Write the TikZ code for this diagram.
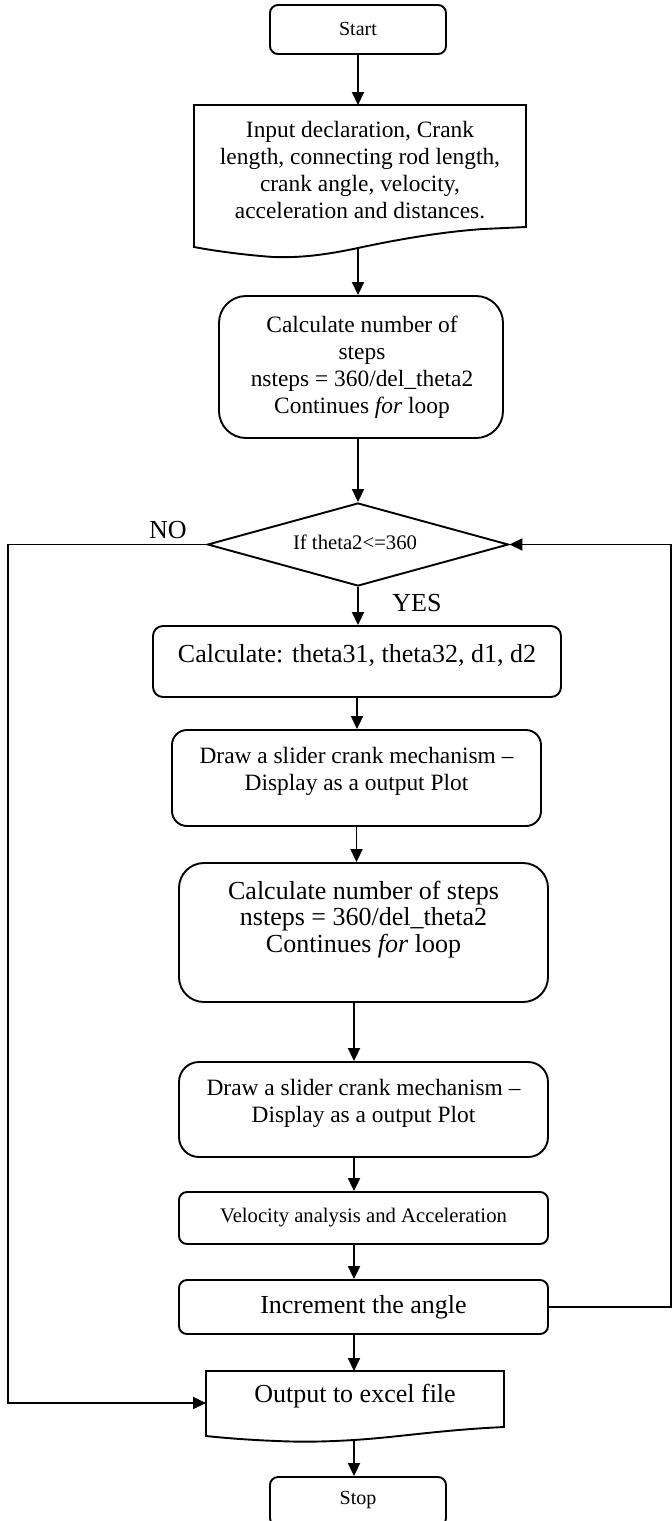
\documentclass[tikz,border=0pt]{standalone}
\usepackage{fontspec}
\setmainfont{Liberation Serif}
\usetikzlibrary{arrows.meta,calc,shapes.geometric}
\begin{document}
\begin{tikzpicture}[x=1pt,y=-1pt,line width=1.9pt,
  boxr/.style={draw,rectangle,inner sep=0pt},
  txt/.style={align=center,inner sep=0pt},
  arr/.style={-{Triangle[length=13pt,width=12pt]}},
  fs20/.style={font=\fontsize{20}{24}\selectfont},
  fs21/.style={font=\fontsize{20.7}{24}\selectfont},
  fs23/.style={font=\fontsize{23.4}{27}\selectfont},
  fs26/.style={font=\fontsize{26}{26.5}\selectfont}]
\useasboundingbox (0,0) rectangle (672,1521);

% Start
\node[boxr,rounded corners=8pt,minimum width=176pt,minimum height=49pt] (start) at (358,29.5) {};
\node[txt,fs20] (startt) at (358,29) {Start};

% Input (document shape)
\draw (194,105) -- (526,105) -- (526,227) -- (483,229)
  .. controls (440,232) and (395,240) .. (358,248)
  .. controls (325,255) and (300,258) .. (273,257)
  .. controls (245,255) and (215,251) .. (194,247) -- cycle;
\coordinate (inpn) at (358,105);
\coordinate (inpb) at (358,248);
\node[txt,fs23] (inpt) at (360,170) {Input declaration, Crank\\length, connecting rod length,\\crank angle, velocity,\\acceleration and distances.};

% Calculate 1
\node[boxr,rounded corners=27pt,minimum width=284pt,minimum height=142pt] (calc1) at (361,367) {};
\node[txt,fs23] (calc1t) at (362,367) {Calculate number of\\steps\\nsteps = 360/del\_theta2\\Continues \textit{for} loop};

% Decision
\node[draw,diamond,inner sep=0pt,minimum width=301pt,minimum height=83pt] (dia) at (358,544.5) {};
\node[txt,fs21] (diat) at (355,542) {If theta2<=360};
\node[txt,fs26] (no) at (168,530) {NO};
\node[txt,fs26] (yes) at (417,603) {YES};

% Calculate 2
\node[boxr,rounded corners=10pt,minimum width=408pt,minimum height=71pt] (calc2) at (357,661.5) {};
\node[txt,fs26] (calc2t) at (357,655) {Calculate: theta31, theta32, d1, d2};

% Draw 1
\node[boxr,rounded corners=15pt,minimum width=369pt,minimum height=96pt] (draw1) at (356.5,778) {};
\node[txt,fs23] (draw1t) at (356.5,771.5) {Draw a slider crank mechanism --\\Display as a output Plot};

% Calculate 3
\node[boxr,rounded corners=25pt,minimum width=369pt,minimum height=139pt] (calc3) at (363.5,932.5) {};
\node[txt,fs26] (calc3t) at (363.5,919.5) {Calculate number of steps\\nsteps = 360/del\_theta2\\Continues \textit{for} loop};

% Draw 2
\node[boxr,rounded corners=20pt,minimum width=369pt,minimum height=95pt] (draw2) at (363.5,1109.5) {};
\node[txt,fs23] (draw2t) at (363.5,1103.5) {Draw a slider crank mechanism --\\Display as a output Plot};

% Velocity
\node[boxr,rounded corners=8pt,minimum width=369pt,minimum height=52pt] (vel) at (363.5,1218) {};
\node[txt,fs21] (velt) at (363.5,1218) {Velocity analysis and Acceleration};

% Increment
\node[boxr,rounded corners=8pt,minimum width=369pt,minimum height=54pt] (inc) at (363.5,1307) {};
\node[txt,fs26] (inct) at (363.5,1307) {Increment the angle};

% Output (document shape)
\draw (206,1371) -- (504,1371) -- (504,1427)
  .. controls (440,1430) and (400,1437) .. (354,1440)
  .. controls (320,1442) and (300,1442) .. (277,1441)
  .. controls (250,1440) and (225,1438) .. (206,1436) -- cycle;
\coordinate (outn) at (354,1371);
\coordinate (outb) at (354,1440);
\coordinate (outw) at (206,1403);
\node[txt,fs26] (outt) at (355,1396) {Output to excel file};

% Stop
\node[boxr,rounded corners=8pt,minimum width=176pt,minimum height=49pt] (stop) at (358,1501.5) {};
\node[txt,fs20] (stopt) at (358,1500) {Stop};

% Connectors
\coordinate (lx) at (354,0);
\coordinate (lft) at (8,0);
\coordinate (rgt) at (671,0);
\draw[arr] (start.south) -- (inpn);
\draw[arr] (inpb) -- (inpb |- calc1.north);
\draw[arr] (dia.north |- calc1.south) -- (dia.north);
\draw[arr] (dia.south) -- (dia.south |- calc2.north);
\draw[arr] (calc2.south) -- (calc2.south |- draw1.north);
\draw[arr] (draw1.south) -- (draw1.south |- calc3.north);
\draw[arr] (lx |- calc3.south) -- (lx |- draw2.north);
\draw[arr] (lx |- draw2.south) -- (lx |- vel.north);
\draw[arr] (lx |- vel.south) -- (lx |- inc.north);
\draw[arr] (lx |- inc.south) -- (outn);
\draw[arr] (outb) -- (lx |- stop.north);
\draw[arr] (dia.west) -- (lft |- dia.west) -- (lft |- outw) -- (outw);
\draw[arr] (inc.east) -- (rgt |- inc.east) -- (rgt |- dia.east) -- (dia.east);
\end{tikzpicture}
\end{document}
